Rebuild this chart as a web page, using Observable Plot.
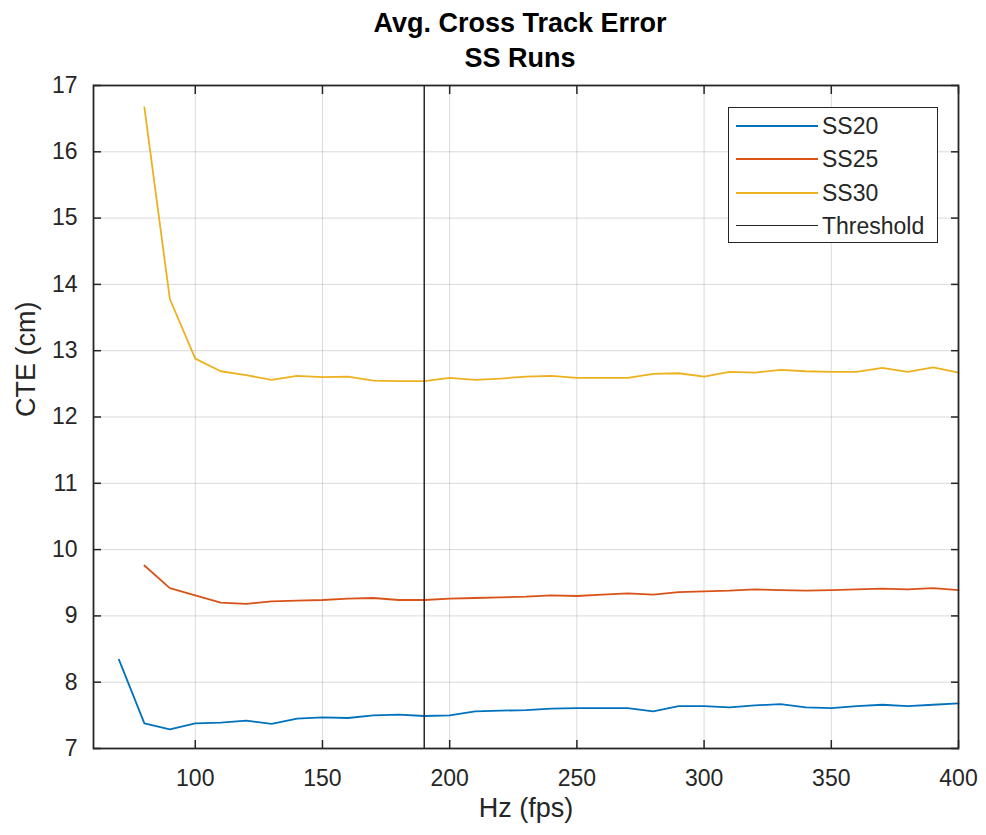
<!DOCTYPE html>
<html><head><meta charset="utf-8">
<script src="https://cdn.jsdelivr.net/npm/d3@7"></script>
<script src="https://cdn.jsdelivr.net/npm/@observablehq/plot@0.6"></script>
<style>
body{margin:0;background:#fff;font-family:"Liberation Sans",Arial,Helvetica,sans-serif;}
#wrap{position:relative;width:986px;height:835px;overflow:hidden;}
#title{height:66px;box-sizing:border-box;padding-top:6px;padding-left:54px;text-align:center;font-weight:bold;font-size:27px;line-height:35px;color:#000;}
#chart svg{background:transparent !important;}
#legend{position:absolute;left:728px;top:107px;width:210px;height:136px;box-sizing:border-box;border:1.5px solid #262626;background:#fff;}
.lrow{position:absolute;left:0;height:30px;width:100%;}
.lline{position:absolute;left:7px;top:14px;width:82px;height:0;border-top:2px solid;}
.ltext{position:absolute;left:93px;top:0;font-size:23px;line-height:30px;color:#262626;}
</style></head><body>
<div id="wrap">
<div id="title">Avg. Cross Track Error<br>SS Runs</div>
<div id="chart"></div>
<div id="legend"></div>
</div>
<script>
const seriesNames = ["SS20", "SS25", "SS30"];
const seriesColors = ["#0072BD", "#D95319", "#EDB120"];
const thresholdLabel = "Threshold";
const thresholdColor = "#262626";
const thresholdHz = 190;

const hzSS20 = [70,80,90,100,110,120,130,140,150,160,170,180,190,200,210,220,230,240,250,260,270,280,290,300,310,320,330,340,350,360,370,380,390,400];
const cteSS20 = [8.34,7.38,7.29,7.38,7.39,7.42,7.37,7.45,7.47,7.46,7.50,7.51,7.49,7.50,7.56,7.57,7.58,7.60,7.61,7.61,7.61,7.56,7.64,7.64,7.62,7.65,7.67,7.62,7.61,7.64,7.66,7.64,7.66,7.68];

const hzSS25 = [80,90,100,110,120,130,140,150,160,170,180,190,200,210,220,230,240,250,260,270,280,290,300,310,320,330,340,350,360,370,380,390,400];
const cteSS25 = [9.76,9.42,9.31,9.20,9.18,9.22,9.23,9.24,9.26,9.27,9.24,9.24,9.26,9.27,9.28,9.29,9.31,9.30,9.32,9.34,9.32,9.36,9.37,9.38,9.40,9.39,9.38,9.39,9.40,9.41,9.40,9.42,9.39];

const hzSS30 = [80,90,100,110,120,130,140,150,160,170,180,190,200,210,220,230,240,250,260,270,280,290,300,310,320,330,340,350,360,370,380,390,400];
const cteSS30 = [16.67,13.78,12.88,12.69,12.63,12.56,12.62,12.60,12.61,12.55,12.54,12.54,12.59,12.56,12.58,12.61,12.62,12.59,12.59,12.59,12.65,12.66,12.61,12.68,12.67,12.71,12.69,12.68,12.68,12.74,12.68,12.75,12.67];

const xTicks = [100,150,200,250,300,350,400];
const yTicks = [7,8,9,10,11,12,13,14,15,16,17];
const xDomain = [60, 400];
const yDomain = [7, 17];
const xLabel = "Hz (fps)";
const yLabel = "CTE (cm)";

const seriesData = [
  {name: seriesNames[0], hz: hzSS20, cte: cteSS20},
  {name: seriesNames[1], hz: hzSS25, cte: cteSS25},
  {name: seriesNames[2], hz: hzSS30, cte: cteSS30}
];
const rows = seriesData.flatMap(s => s.hz.map((h, i) => ({hz: h, cte: s.cte[i], series: s.name})));

const font = "'Liberation Sans', Arial, Helvetica, sans-serif";
const fmt = d => String(d);
const chart = Plot.plot({
  width: 986, height: 769,
  marginTop: 19, marginLeft: 93, marginRight: 28, marginBottom: 87,
  style: {fontFamily: font, fontSize: "23px", color: "#262626", background: "transparent", overflow: "visible"},
  x: {domain: xDomain},
  y: {domain: yDomain},
  color: {domain: seriesNames, range: seriesColors},
  marks: [
    Plot.gridX(xTicks, {stroke: "#000", strokeOpacity: 0.15, strokeWidth: 1}),
    Plot.gridY(yTicks, {stroke: "#000", strokeOpacity: 0.15, strokeWidth: 1}),
    Plot.line(rows, {x: "hz", y: "cte", z: "series", stroke: "series", strokeWidth: 1.8}),
    Plot.ruleX([thresholdHz], {stroke: thresholdColor, strokeWidth: 1.5}),
    Plot.axisX(xTicks, {anchor: "bottom", tickSize: 0, tickPadding: 21, label: null, fontSize: 23, fill: "#262626", tickFormat: fmt}),
    Plot.axisY(yTicks, {anchor: "left", tickSize: 0, tickPadding: 16, label: null, fontSize: 23, fill: "#262626", tickFormat: fmt}),
    Plot.axisX(xTicks, {anchor: "bottom", tickSize: 8, text: null, label: null, dy: -8, stroke: "#262626", strokeWidth: 1.5}),
    Plot.axisX(xTicks, {anchor: "top", tickSize: 8, text: null, label: null, dy: 8, stroke: "#262626", strokeWidth: 1.5}),
    Plot.axisY(yTicks, {anchor: "left", tickSize: 8, text: null, label: null, dx: 8, stroke: "#262626", strokeWidth: 1.5}),
    Plot.axisY(yTicks, {anchor: "right", tickSize: 8, text: null, label: null, dx: -8, stroke: "#262626", strokeWidth: 1.5}),
    Plot.frame({stroke: "#262626", strokeWidth: 1.8}),
    Plot.text([xLabel], {text: d => d, frameAnchor: "bottom", dy: 68, fontSize: 27, fill: "#262626"}),
    Plot.text([yLabel], {text: d => d, frameAnchor: "left", rotate: -90, dx: -67, fontSize: 27, fill: "#262626"})
  ]
});
document.getElementById("chart").appendChild(chart);

const legendItems = seriesNames.map((n, i) => ({name: n, color: seriesColors[i]})).concat([{name: thresholdLabel, color: thresholdColor, thin: true}]);
const legend = document.getElementById("legend");
legendItems.forEach((it, i) => {
  const row = document.createElement("div");
  row.className = "lrow";
  row.style.top = (3 + i * 33.3) + "px";
  const line = document.createElement("div");
  line.className = "lline";
  line.style.borderTopColor = it.color;
  if (it.thin) line.style.borderTopWidth = "1.5px";
  const txt = document.createElement("div");
  txt.className = "ltext";
  txt.textContent = it.name;
  row.appendChild(line); row.appendChild(txt);
  legend.appendChild(row);
});
</script>
</body></html>
